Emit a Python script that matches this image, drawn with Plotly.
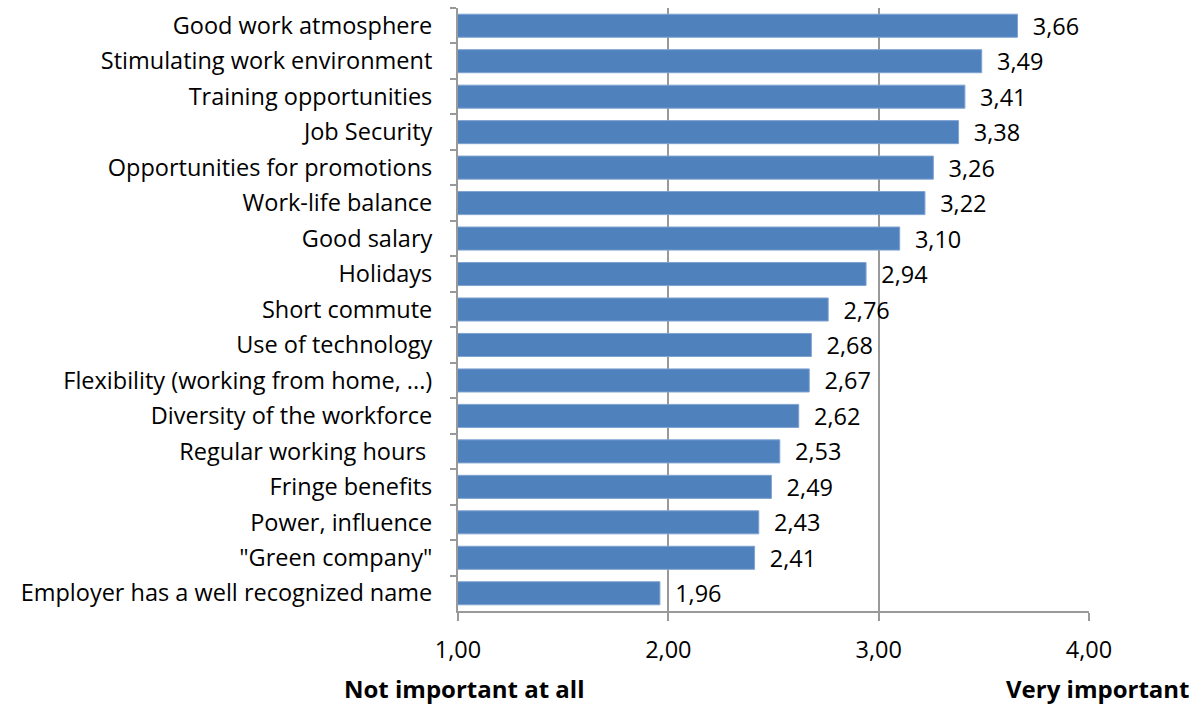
import plotly.graph_objects as go

categories = [
    "Good work atmosphere",
    "Stimulating work environment",
    "Training opportunities",
    "Job Security",
    "Opportunities for promotions",
    "Work-life balance",
    "Good salary",
    "Holidays",
    "Short commute",
    "Use of technology",
    "Flexibility (working from home, ...)",
    "Diversity of the workforce",
    "Regular working hours ",
    "Fringe benefits",
    "Power, influence",
    "\"Green company\"",
    "Employer has a well recognized name",
]
values = [3.66, 3.49, 3.41, 3.38, 3.26, 3.22, 3.10, 2.94, 2.76, 2.68, 2.67, 2.62, 2.53, 2.49, 2.43, 2.41, 1.96]
x_ticks = [1, 2, 3, 4]
axis_low_label = "Not important at all"
axis_high_label = "Very important"

labels = ["  " + f"{v:.2f}".replace(".", ",") for v in values]

FONT = "Open Sans"
SIZE = 23.5
fig = go.Figure(go.Bar(
    x=values, y=categories, orientation="h", base=0,
    marker=dict(color="#4F81BD", line=dict(color="#7FA3D0", width=1)),
    text=labels, textposition="outside", cliponaxis=False, constraintext="none",
    textfont=dict(family=FONT, size=SIZE, color="#000000"),
    hoverinfo="skip",
))

fig.update_layout(
    width=1204, height=704,
    margin=dict(l=458, r=115, t=8, b=93),
    paper_bgcolor="white", plot_bgcolor="white",
    bargap=0.35, showlegend=False,
    separators=",.",
    font=dict(family=FONT, size=SIZE, color="#000000"),
    xaxis=dict(
        range=[1, 4], tickvals=x_ticks, tickformat=".2f",
        showgrid=True, gridcolor="#999999", gridwidth=2,
        showline=True, linecolor="#999999", linewidth=2,
        ticks="outside", ticklen=8, tickcolor="#999999", tickwidth=2,
        zeroline=False, ticklabelstandoff=9,
    ),
    yaxis=dict(
        categoryorder="array", categoryarray=categories,
        autorange="reversed",
        showline=True, linecolor="#999999", linewidth=2,
        ticks="outside", ticklen=6, tickcolor="#999999", tickwidth=2,
        tickson="boundaries", ticklabelstandoff=19,
        showgrid=False,
    ),
    annotations=[
        dict(text=f"<b>{axis_low_label}</b>", x=1, xref="x", xshift=6, y=0, yref="paper",
             yshift=-77, xanchor="center", yanchor="middle", showarrow=False,
             font=dict(family=FONT, size=24, color="#000000")),
        dict(text=f"<b>{axis_high_label}</b>", x=1.0, xref="paper", xshift=103, y=0, yref="paper",
             yshift=-77, xanchor="right", yanchor="middle", showarrow=False,
             font=dict(family=FONT, size=24, color="#000000")),
    ],
)

fig.write_html("out.html", config={"displayModeBar": False},
               post_script="document.body.style.margin='0';")
